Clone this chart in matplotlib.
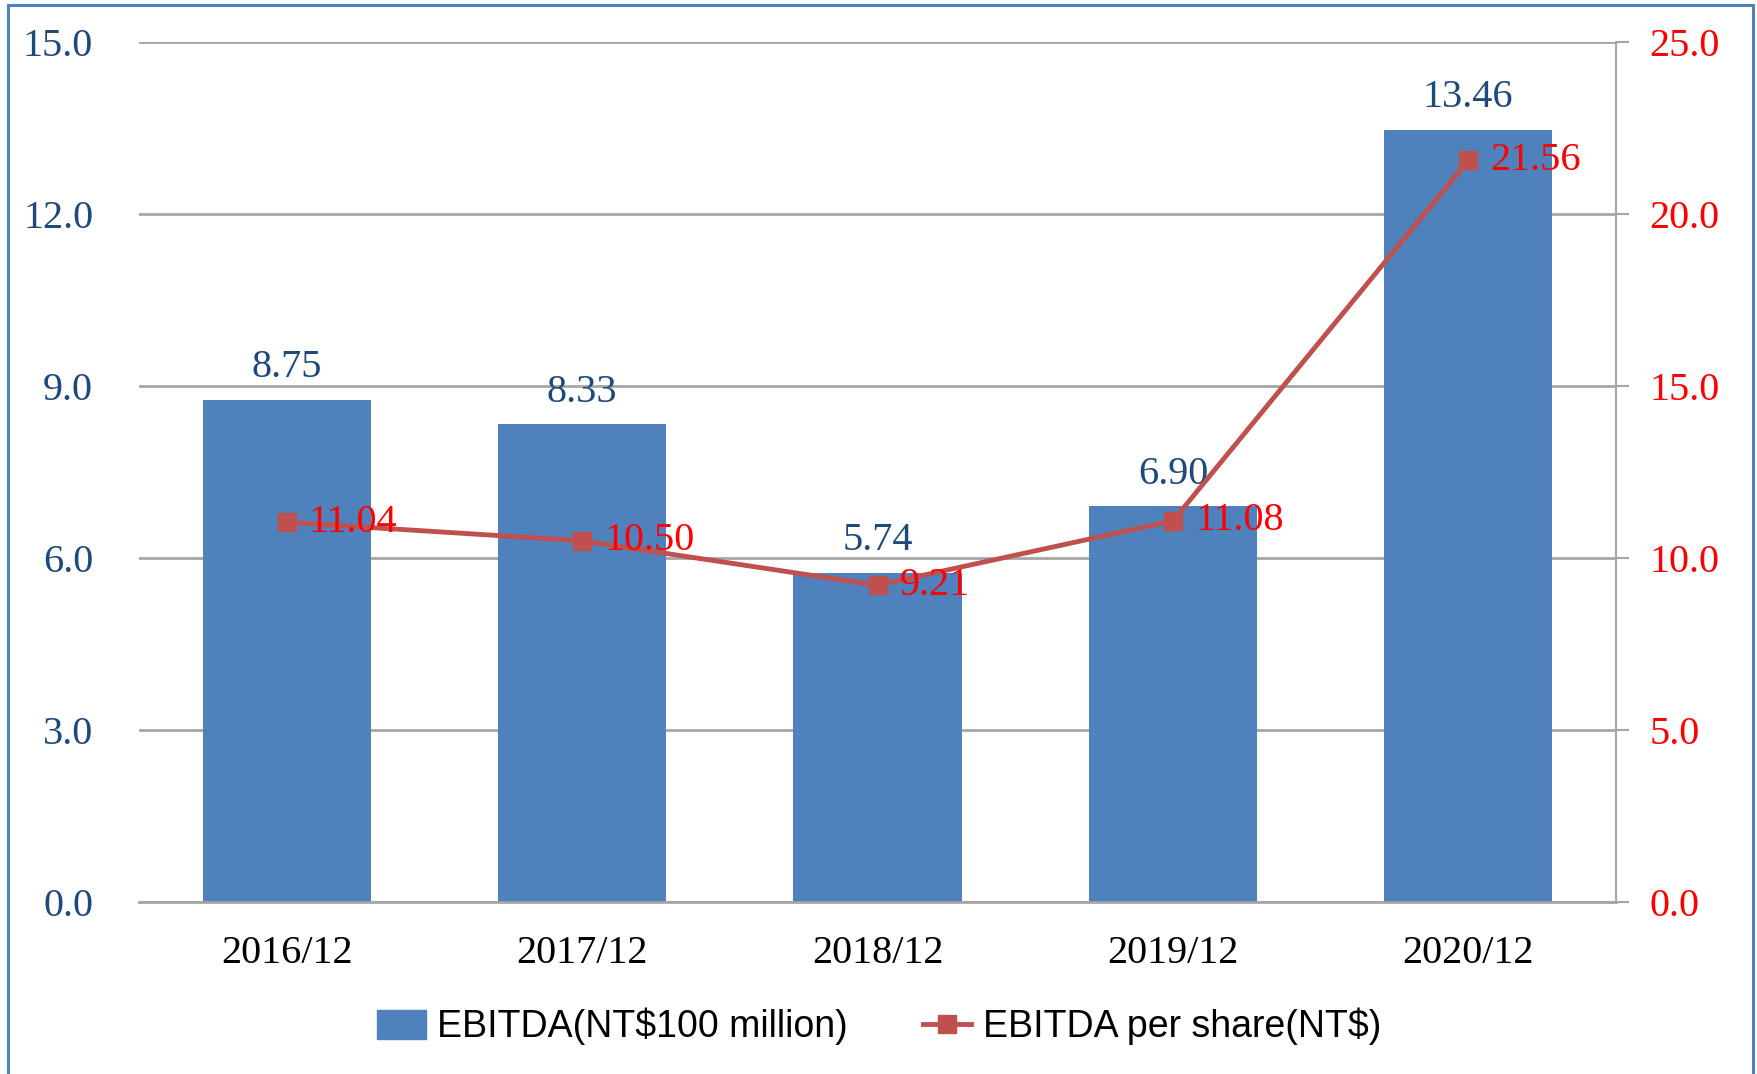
import matplotlib
matplotlib.use('Agg')
import matplotlib.pyplot as plt
from matplotlib.patches import Rectangle
from matplotlib.lines import Line2D
import numpy as np

periods = ['2016/12', '2017/12', '2018/12', '2019/12', '2020/12']
ebitda = [8.75, 8.33, 5.74, 6.90, 13.46]
ebitda_per_share = [11.04, 10.50, 9.21, 11.08, 21.56]
left_ticks = [0, 3, 6, 9, 12, 15]
right_ticks = [0, 5, 10, 15, 20, 25]

bar_color = '#4F81BD'
line_color = '#C0504D'
grid_color = '#A6A6A6'
serif = 'Liberation Serif'

fig = plt.figure(figsize=(17.58, 10.74), dpi=100)
ax = fig.add_axes([0.0791, 0.1601, 0.8401, 0.8008])
ax2 = ax.twinx()

x = np.arange(len(periods))
ax.bar(x, ebitda, width=0.57, color=bar_color, zorder=2)
ax.set_xlim(-0.5, len(periods) - 0.5)
ax.set_ylim(0, 15)
ax.set_yticks(left_ticks)
ax.set_yticklabels([f'{v:.1f}' for v in left_ticks], fontfamily=serif,
                   fontsize=29, color='#1F497D')
ax.set_xticks(x)
ax.set_xticklabels(periods, fontfamily=serif, fontsize=29, color='black')
ax.tick_params(axis='y', length=0, pad=33)
ax.tick_params(axis='x', length=0, pad=24)
ax.yaxis.grid(True, color=grid_color, linewidth=2, zorder=0)
ax.set_axisbelow(True)
for s in ['top', 'left', 'right']:
    ax.spines[s].set_visible(False)
ax.spines['bottom'].set_color(grid_color)
ax.spines['bottom'].set_linewidth(2)

for xi, v in zip(x, ebitda):
    ax.annotate(f'{v:.2f}', (xi, v), xytext=(0, 10), textcoords='offset points',
                ha='center', va='bottom', fontfamily=serif, fontsize=29,
                color='#1F497D')

ax2.plot(x, ebitda_per_share, color=line_color, linewidth=3.5, marker='s',
         markersize=13, zorder=3)
ax2.set_ylim(0, 25)
ax2.set_yticks(right_ticks)
ax2.set_yticklabels([f'{v:.1f}' for v in right_ticks], fontfamily=serif,
                    fontsize=29, color='#FF0000')
ax2.tick_params(axis='y', length=9, width=1.5, color=grid_color, pad=15)
for s in ['top', 'left', 'bottom']:
    ax2.spines[s].set_visible(False)
ax2.spines['right'].set_color(grid_color)
ax2.spines['right'].set_linewidth(1.5)

for xi, v in zip(x, ebitda_per_share):
    ax2.annotate(f'{v:.2f}', (xi, v), xytext=(16, 0), textcoords='offset points',
                 ha='left', va='center', fontfamily=serif, fontsize=29,
                 color='#FF0000')

handles = [Rectangle((0, 0), 1, 1, color=bar_color),
           Line2D([0], [0], color=line_color, linewidth=3.5, marker='s', markersize=13)]
fig.legend(handles, ['EBITDA(NT$100 million)', 'EBITDA per share(NT$)'],
           loc='center', bbox_to_anchor=(0.5, 0.044), ncol=2, frameon=False,
           prop={'family': ['Liberation Sans Narrow', 'Liberation Sans'], 'size': 27},
           handlelength=1.3, handleheight=0.8, handletextpad=0.3, columnspacing=2.0)

border = Rectangle((8 / 1758, -0.05), (1753 - 8) / 1758, 1 - 5 / 1074 + 0.05,
                   transform=fig.transFigure, fill=False, edgecolor=bar_color,
                   linewidth=2.2, zorder=10)
fig.patches.append(border)

fig.savefig('out.png', dpi=100)
